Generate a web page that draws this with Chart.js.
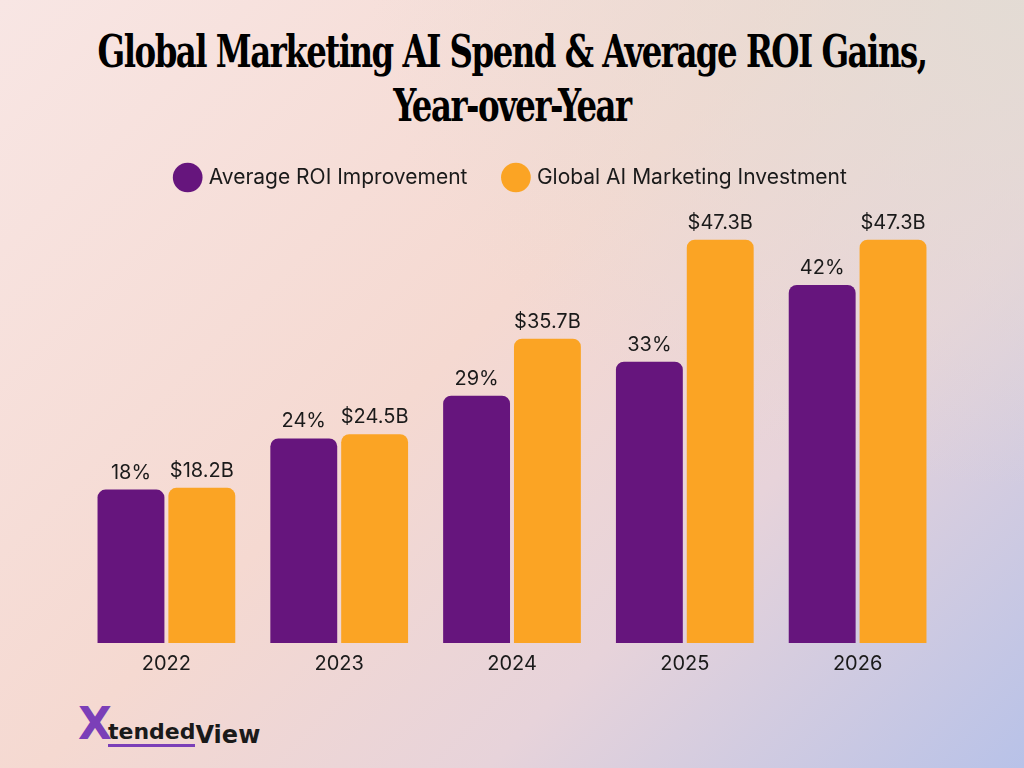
<!DOCTYPE html>
<html>
<head>
<meta charset="utf-8">
<script src="https://cdn.jsdelivr.net/npm/chart.js@4"></script>
<style>
  html, body { margin: 0; padding: 0; }
  body {
    width: 1024px; height: 768px; overflow: hidden; position: relative;
    background:
      radial-gradient(ellipse at 100% 0%, rgba(226,220,212,0.9) 0%, rgba(226,220,212,0) 45%),
      linear-gradient(135deg, #f8e6e4 0%, #f5d9d1 45%, #e7d3da 70%, #b8c2e8 100%);
  }
  h1 {
    position: absolute; left: 0; top: 35px; width: 1024px; margin: 0;
    text-align: center; font-family: "DejaVu Serif Condensed", "DejaVu Serif", serif;
    font-weight: bold; font-size: 36px; line-height: 43px; color: #000;
    letter-spacing: -1.5px; transform: scaleY(1.25); transform-origin: 50% 50%;
  }
  #wrap { position: absolute; left: 0; top: 129px; width: 1024px; height: 548px; }
  #logo {
    position: absolute; left: 78px; top: 698px; font-family: "DejaVu Sans", sans-serif;
    font-weight: bold; color: #1a1a1a;
  }
  #logo .x { font-size: 44px; color: #7b3fb8; }
  #logo .t { font-size: 22px; border-bottom: 3px solid #7b3fb8; position: relative; left: -4px; }
  #logo .v { font-size: 24px; position: relative; top: 4px; left: -4px; }
</style>
</head>
<body>
<h1>Global Marketing AI Spend &amp; Average ROI Gains,<br>Year-over-Year</h1>
<div id="wrap"><canvas id="chart"></canvas></div>
<div id="logo"><span class="x">X</span><span class="t">tended</span><span class="v">View</span></div>
<script>
const years = ['2022', '2023', '2024', '2025', '2026'];
const roiValues = [18, 24, 29, 33, 42];
const spendValues = [18.2, 24.5, 35.7, 47.3, 47.3];
const roiLabels = roiValues.map(v => v + '%');
const spendLabels = spendValues.map(v => '$' + v.toFixed(1) + 'B');

const valueLabels = {
    id: 'valueLabels',
    afterDatasetsDraw(chart) {
        const ctx = chart.ctx;
        ctx.save();
        ctx.font = '20px Inter, sans-serif';
        ctx.fillStyle = '#1a1a1a';
        ctx.textAlign = 'center';
        ctx.textBaseline = 'bottom';
        chart.data.datasets.forEach((ds, i) => {
            const texts = i === 0 ? roiLabels : spendLabels;
            chart.getDatasetMeta(i).data.forEach((bar, j) => {
                ctx.fillText(texts[j], bar.x, bar.y - 7);
            });
        });
        ctx.restore();
    }
};

const ctx = document.getElementById('chart').getContext('2d');
new Chart(ctx, {
    type: 'bar',
    data: {
        labels: years,
        datasets: [{
            label: 'Average ROI Improvement',
            data: roiValues,
            backgroundColor: '#66157d',
            borderRadius: { topLeft: 8, topRight: 8 },
            borderSkipped: 'bottom',
            barPercentage: 0.944,
            categoryPercentage: 0.82
        }, {
            label: 'Global AI Marketing Investment',
            data: spendValues,
            backgroundColor: '#fba424',
            borderRadius: { topLeft: 8, topRight: 8 },
            borderSkipped: 'bottom',
            barPercentage: 0.944,
            categoryPercentage: 0.82
        }]
    },
    options: {
        responsive: true,
        maintainAspectRatio: false,
        animation: false,
        layout: { padding: { left: 80, right: 80, top: 0, bottom: 0 } },
        plugins: {
            legend: {
                position: 'top',
                labels: {
                    usePointStyle: true,
                    pointStyle: 'circle',
                    boxWidth: 21,
                    boxHeight: 21,
                    padding: 38,
                    color: '#1a1a1a',
                    font: { family: 'Inter, sans-serif', size: 21 }
                }
            },
            tooltip: { enabled: false }
        },
        scales: {
            x: {
                grid: { display: false },
                border: { display: false },
                ticks: { color: '#1a1a1a', font: { family: 'Inter, sans-serif', size: 20 }, padding: 1 }
            },
            y: {
                display: false,
                min: 0,
                max: 52.2
            }
        }
    },
    plugins: [valueLabels]
});
</script>
</body>
</html>
